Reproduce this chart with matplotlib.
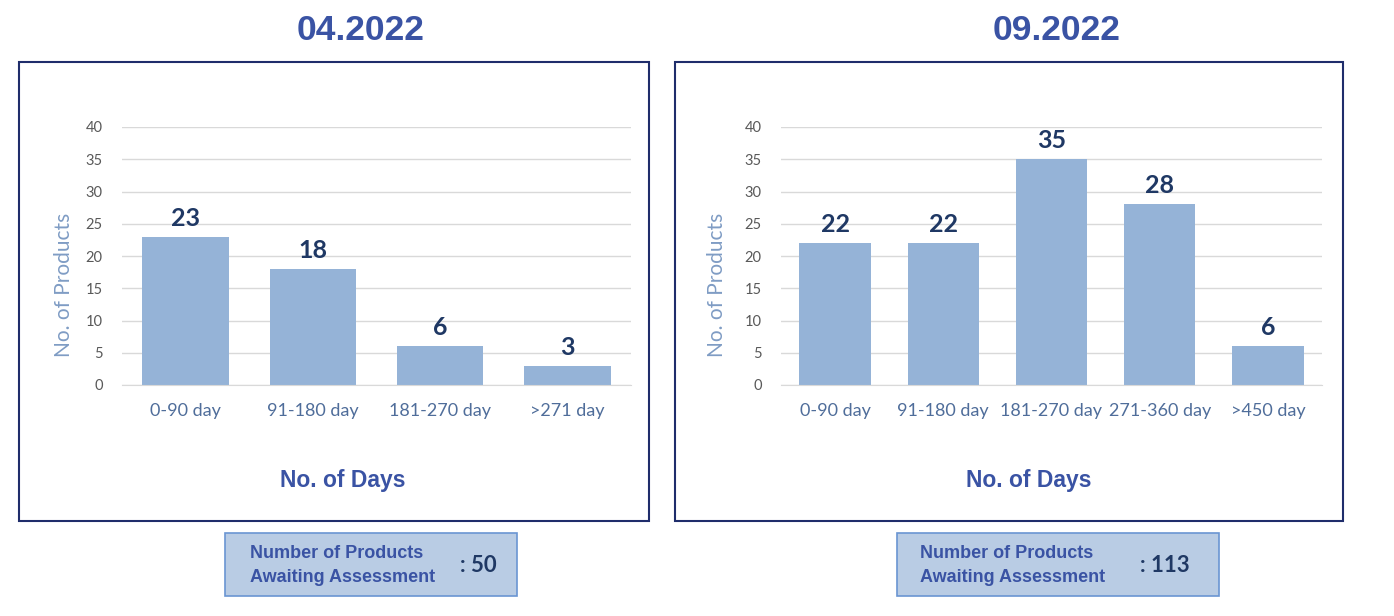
import matplotlib
matplotlib.use("Agg")
import matplotlib.pyplot as plt
from matplotlib.patches import Rectangle

W, H = 1394, 616
DPI = 100

# Data
titles = ["04.2022", "09.2022"]
cats_left = ["0-90 day", "91-180 day", "181-270 day", ">271 day"]
vals_left = [23, 18, 6, 3]
cats_right = ["0-90 day", "91-180 day", "181-270 day", "271-360 day", ">450 day"]
vals_right = [22, 22, 35, 28, 6]
totals = [50, 113]
yticks = [0, 5, 10, 15, 20, 25, 30, 35, 40]

BAR = "#95b3d7"
TITLE_C = "#3a53a4"
NAVY = "#1f3864"
TICKX = "#4f6d9a"
YLAB = "#7f9cc4"
FRAME = "#1f2d6b"

fig = plt.figure(figsize=(W / DPI, H / DPI), dpi=DPI)
fig.patch.set_facecolor("white")

def rect(x0, y0, x1, y1):
    return [x0 / W, 1 - y1 / H, (x1 - x0) / W, (y1 - y0) / H]

def fx(x):
    return x / W

def fy(y):
    return 1 - y / H

panels = [
    dict(frame=(19, 62, 649, 521), ax=(122, 127, 631, 385), cats=cats_left, vals=vals_left,
         width=0.68, title_x=361, xlabel_x=343, ylabel_x=64,
         box=(225, 533, 517, 596), txt_x=250, tot_x=460),
    dict(frame=(675, 62, 1343, 521), ax=(781, 127, 1322, 385), cats=cats_right, vals=vals_right,
         width=0.66, title_x=1057, xlabel_x=1029, ylabel_x=717,
         box=(897, 533, 1219, 596), txt_x=920, tot_x=1140),
]

for i, p in enumerate(panels):
    # frame
    x0, y0, x1, y1 = p["frame"]
    fig.patches.append(Rectangle((fx(x0), fy(y1)), (x1 - x0) / W, (y1 - y0) / H,
                                 transform=fig.transFigure, fill=False,
                                 edgecolor=FRAME, linewidth=1.5))
    # title
    fig.text(fx(p["title_x"]), fy(30), titles[i], ha="center", va="center",
             fontsize=25.5, fontweight="bold", color=TITLE_C, family="Liberation Sans")

    ax = fig.add_axes(rect(*p["ax"]))
    xs = list(range(len(p["cats"])))
    bars = ax.bar(xs, p["vals"], width=p["width"], color=BAR, zorder=2)
    ax.set_xlim(-0.5, len(xs) - 0.5)
    ax.set_ylim(0, 40)
    ax.set_yticks(yticks)
    ax.set_yticklabels([str(t) for t in yticks], color="#595959", fontsize=10.5,
                       family="Lato")
    ax.set_xticks(xs)
    ax.set_xticklabels(p["cats"], color=TICKX, fontsize=13, family="Lato")
    ax.tick_params(axis="both", length=0)
    ax.tick_params(axis="y", pad=14)
    ax.tick_params(axis="x", pad=13)
    ax.grid(axis="y", color="#d9d9d9", linewidth=1, zorder=0)
    ax.set_axisbelow(True)
    for s in ["top", "right", "left"]:
        ax.spines[s].set_visible(False)
    ax.spines["bottom"].set_color("#d9d9d9")
    for b, v in zip(bars, p["vals"]):
        ax.annotate(str(v), (b.get_x() + b.get_width() / 2, v), xytext=(0, 5),
                    textcoords="offset points", ha="center", va="bottom",
                    fontsize=18, fontweight="bold", color=NAVY, family="Lato")

    # y label
    fig.text(fx(p["ylabel_x"]), fy(285), "No. of Products", rotation=90,
             ha="center", va="center", fontsize=15, color=YLAB, family="Lato")
    # x label
    fig.text(fx(p["xlabel_x"]), fy(480), "No. of Days", ha="center", va="center",
             fontsize=16.5, fontweight="bold", color=TITLE_C, family="Liberation Sans")

    # summary box
    bx0, by0, bx1, by1 = p["box"]
    fig.patches.append(Rectangle((fx(bx0), fy(by1)), (bx1 - bx0) / W, (by1 - by0) / H,
                                 transform=fig.transFigure, facecolor="#b9cce4",
                                 edgecolor="#6a95d2", linewidth=1.2))
    fig.text(fx(p["txt_x"]), fy(554), "Number of Products",
             ha="left", va="center", fontsize=13, fontweight="bold", color=TITLE_C,
             family="Liberation Sans")
    fig.text(fx(p["txt_x"]), fy(577), "Awaiting Assessment",
             ha="left", va="center", fontsize=13, fontweight="bold", color=TITLE_C,
             family="Liberation Sans")
    fig.text(fx(p["tot_x"]), fy(565), f": {totals[i]}", ha="left", va="center",
             fontsize=16, fontweight="bold", color=NAVY, family="Lato")

fig.savefig("out.png", dpi=DPI)
